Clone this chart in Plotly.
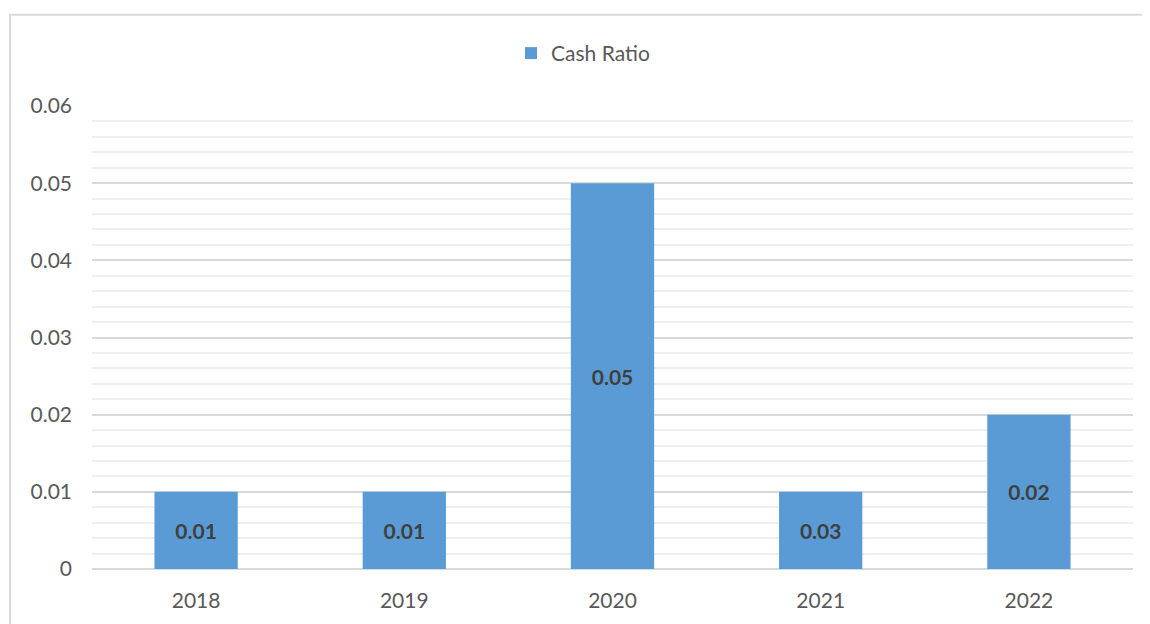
import plotly.graph_objects as go

years = ["2018", "2019", "2020", "2021", "2022"]
cash_ratio = [0.01, 0.01, 0.05, 0.01, 0.02]
label_texts = ["0.01", "0.01", "0.05", "0.03", "0.02"]
y_ticks = [0, 0.01, 0.02, 0.03, 0.04, 0.05, 0.06]
y_tick_labels = ["0", "0.01", "0.02", "0.03", "0.04", "0.05", "0.06"]

FONT = "Lato, 'Open Sans', sans-serif"
# page is offset by the 8px body margin; keep figure inside the viewport
W, H = 1142, 616
ML, MT = 84, 98
PW, PH = 1041, 467
MR = W - ML - PW
MB = H - MT - PH

def px_to_paper_x(fx):
    return (fx - ML) / PW

def px_to_paper_y(fy):
    return 1 + (MT - fy) / PH

fig = go.Figure()
fig.add_trace(go.Bar(
    x=years, y=cash_ratio, name="Cash Ratio",
    marker=dict(color="#5b9bd5", line=dict(width=0)),
    text=label_texts, textposition="inside", insidetextanchor="middle",
    textangle=0,
    textfont=dict(family=FONT, size=21, color="#404040", weight="bold"),
    showlegend=True,
))

fig.update_layout(
    width=W, height=H,
    margin=dict(l=ML, r=MR, t=MT, b=MB),
    paper_bgcolor="white", plot_bgcolor="white",
    bargap=0.6,
    font=dict(family=FONT, size=21, color="#595959"),
    showlegend=True,
    legend=dict(orientation="h", x=px_to_paper_x(503), xanchor="left",
                y=px_to_paper_y(45), yanchor="middle",
                font=dict(family=FONT, size=21, color="#595959"),
                bgcolor="rgba(0,0,0,0)"),
    xaxis=dict(showgrid=False, showline=False, ticks="",
               tickfont=dict(family=FONT, size=21, color="#595959"),
               ticklabelstandoff=17),
    yaxis=dict(range=[0, 0.06], tickvals=y_ticks, ticktext=y_tick_labels,
               showgrid=True, gridcolor="#d9d9d9", gridwidth=1.5,
               zeroline=True, zerolinecolor="#d9d9d9", zerolinewidth=1.5,
               showline=False, ticks="",
               minor=dict(dtick=0.002, showgrid=True, gridcolor="#efefef", gridwidth=1.5),
               tickfont=dict(family=FONT, size=21, color="#595959"),
               ticklabelstandoff=19),
)

fig.add_shape(type="rect", xref="paper", yref="paper",
              x0=px_to_paper_x(2), x1=1.2, y0=-0.3, y1=px_to_paper_y(6),
              line=dict(color="#d9d9d9", width=2), fillcolor="rgba(0,0,0,0)",
              layer="below")

fig.write_html("out.html")
